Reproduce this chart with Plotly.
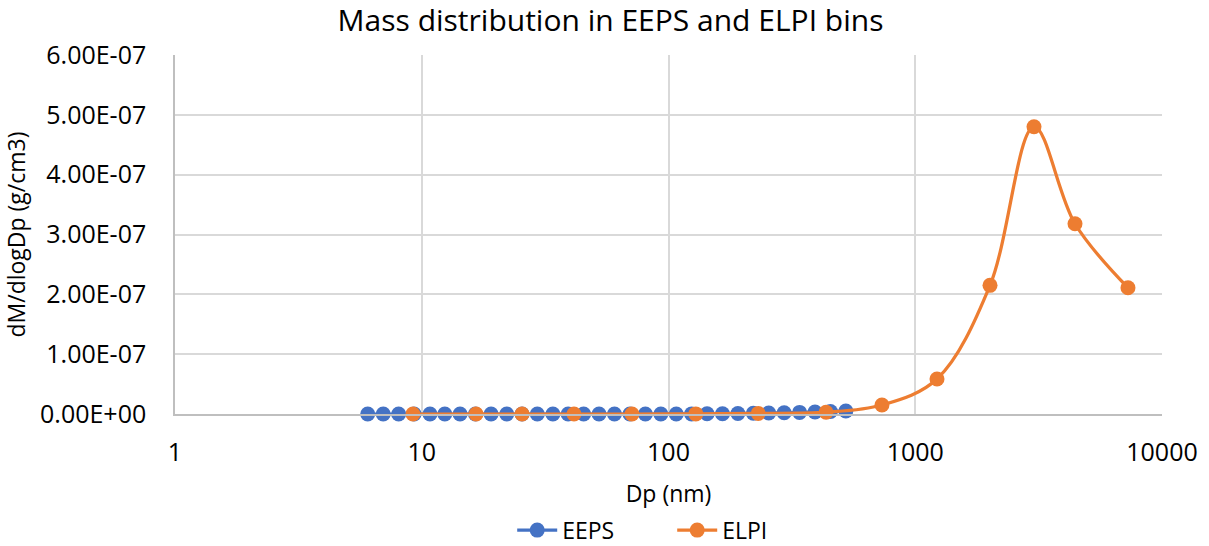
import plotly.graph_objects as go

# EEPS channel midpoints (nm) and mass distribution
eeps_dp = [6.04, 6.98, 8.06, 9.31, 10.8, 12.4, 14.3, 16.5, 19.1, 22.1, 25.5, 29.4,
           34.0, 39.2, 45.3, 52.3, 60.4, 69.8, 80.6, 93.1, 107.5, 124.1, 143.3,
           165.5, 191.1, 220.7, 254.8, 294.3, 339.8, 392.4, 453.2, 523.3]
eeps_m = [0, 0, 0, 0, 0, 0, 0, 0, 0, 0, 0, 0,
          0, 0, 0, 0, 0, 0, 0, 0, 1e-10, 2e-10, 3e-10,
          5e-10, 8e-10, 1.2e-9, 1.6e-9, 2.1e-9, 2.7e-9, 3.4e-9, 4.2e-9, 5e-9]

# ELPI stage midpoints (nm) and mass distribution
elpi_dp = [9.21, 16.6, 25.5, 41.4, 71.1, 129, 231, 435, 733, 1225, 2009, 3029, 4440, 7280]
elpi_m = [0, 0, 0, 0, 0, 2e-10, 1e-9, 3e-9, 1.5e-8, 5.85e-8, 2.15e-7, 4.8e-7, 3.18e-7, 2.11e-7]

x_ticks = [1, 10, 100, 1000, 10000]
x_tick_labels = ["1", "10", "100", "1000", "10000"]
y_ticks = [0, 1e-7, 2e-7, 3e-7, 4e-7, 5e-7, 6e-7]
y_tick_labels = ["0.00E+00", "1.00E-07", "2.00E-07", "3.00E-07", "4.00E-07", "5.00E-07", "6.00E-07"]

FONT = "Open Sans"
BLUE = "#4472C4"
ORANGE = "#ED7D31"

fig = go.Figure()
fig.add_trace(go.Scatter(
    x=eeps_dp, y=eeps_m, name="EEPS", mode="lines+markers",
    line=dict(color=BLUE, width=3.25, shape="spline"),
    marker=dict(color=BLUE, size=15), cliponaxis=False))
fig.add_trace(go.Scatter(
    x=elpi_dp, y=elpi_m, name="ELPI", mode="lines+markers",
    line=dict(color=ORANGE, width=3.25, shape="spline", smoothing=1),
    marker=dict(color=ORANGE, size=15), cliponaxis=False))

fig.update_layout(
    width=1209, height=546,
    margin=dict(l=175, r=47, t=55, b=132),
    paper_bgcolor="white", plot_bgcolor="white",
    font=dict(family=FONT, color="#000000", size=22),
    title=dict(text="Mass distribution in EEPS and ELPI bins",
               x=0.505, xref="container", xanchor="center",
               y=0.962, yref="container", yanchor="middle",
               font=dict(family=FONT, size=30, color="#000000")),
    showlegend=True,
    legend=dict(orientation="h", x=0.556, xref="container", xanchor="center",
                y=0.029, yref="container", yanchor="middle",
                font=dict(family=FONT, size=23), itemwidth=40,
                entrywidth=105, entrywidthmode="pixels", traceorder="normal"),
    xaxis=dict(type="log", range=[0, 4], tickvals=x_ticks, ticktext=x_tick_labels,
               showgrid=True, gridcolor="#D9D9D9", gridwidth=1.5,
               showline=True, linecolor="#BFBFBF", linewidth=1.5,
               ticks="", ticklabelstandoff=15, zeroline=False, automargin=False,
               tickfont=dict(size=25),
               title=dict(text="Dp (nm)", standoff=22, font=dict(size=23))),
    yaxis=dict(range=[0, 6e-7], tickvals=y_ticks, ticktext=y_tick_labels,
               showgrid=True, gridcolor="#D9D9D9", gridwidth=1.5,
               showline=True, linecolor="#BFBFBF", linewidth=1.5,
               ticks="", ticklabelstandoff=22, zeroline=False, automargin=False,
               tickfont=dict(size=25),
               title=dict(text="dM/dlogDp (g/cm3)", standoff=14, font=dict(size=23))),
)

fig.write_html("out.html")
